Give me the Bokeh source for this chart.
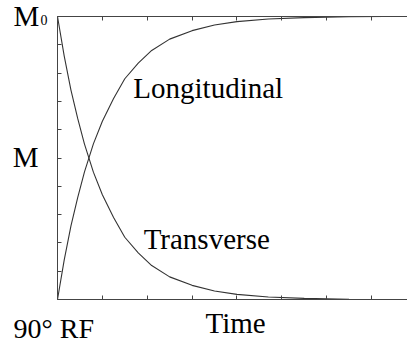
from bokeh.plotting import figure
from bokeh.models import Range1d, LinearAxis, FixedTicker, Label, ColumnDataSource, CustomJSTickFormatter
from bokeh.embed import file_html
from bokeh.resources import INLINE

# Data (time in units of the relaxation constant)
t_vals = [0, 0.15, 0.3, 0.45, 0.6, 0.8, 1.0, 1.25, 1.5, 1.8, 2.1, 2.5, 3.0, 3.5, 4.0, 4.7, 5.5, 6.5, 7.3]
longitudinal = [0, 0.14, 0.26, 0.36, 0.45, 0.55, 0.63, 0.71, 0.78, 0.835, 0.88, 0.92, 0.95, 0.97, 0.982, 0.991, 0.996, 0.999, 1.0]
transverse = [1.0, 0.86, 0.74, 0.64, 0.55, 0.45, 0.37, 0.29, 0.22, 0.165, 0.12, 0.08, 0.05, 0.03, 0.018, 0.009, 0.004, 0.001, 0.0]
x_ticks = [0, 1, 2, 3, 4, 5, 6, 7]
y_ticks = [0, 0.1, 0.2, 0.3, 0.4, 0.5, 0.6, 0.7, 0.8, 0.9, 1.0]
x_end = 7.8
y_end = 1.0

FONT = "Liberation Serif"
AX = "#444444"

p = figure(width=407, height=345, x_range=Range1d(-1.2706, 7.802), y_range=Range1d(-0.1625, 1.0565),
           output_backend="svg", toolbar_location=None,
           x_axis_type=None, y_axis_type=None,
           min_border=0)
p.outline_line_color = None
p.background_fill_color = "white"
p.border_fill_color = "white"

def make_axis(ticks, loc, bounds):
    ax = LinearAxis(ticker=FixedTicker(ticks=ticks), fixed_location=loc, bounds=bounds,
                    formatter=CustomJSTickFormatter(code="return ''"))
    ax.major_tick_in = 4
    ax.major_tick_out = 0
    ax.minor_tick_in = 0
    ax.minor_tick_out = 0
    ax.major_label_standoff = 0
    ax.axis_label_standoff = 0
    ax.axis_line_color = AX
    ax.major_tick_line_color = AX
    ax.axis_line_width = 1
    return ax

p.add_layout(make_axis(y_ticks, 0, (0, y_end)), "left")
p.add_layout(make_axis(x_ticks, 0, (0, x_end)), "below")
p.add_layout(make_axis(x_ticks, y_end, (0, x_end)), "above")

src = ColumnDataSource(dict(t=t_vals, L=longitudinal, T=transverse))
p.line("t", "L", source=src, line_color="#333333", line_width=1.1)
p.line("t", "T", source=src, line_color="#333333", line_width=1.1)

DY = 0.035  # baseline correction

def lab(x, y, text, size="29px"):
    p.add_layout(Label(x=x, y=y + DY, text=text, text_font=FONT, text_font_size=size,
                       text_color="black", text_baseline="alphabetic", text_align="left"))

lab(1.69, 0.714, "Longitudinal")
lab(1.92, 0.180, "Transverse")
lab(3.30, -0.117, "Time")
lab(-1.0, 0.470, "M")
lab(-0.98, 0.965, "M")
lab(-0.38, 0.951, "0", size="14px")
lab(-0.98, -0.139, "90° RF", size="28px")

open("out.html", "w").write(file_html(p, INLINE))
